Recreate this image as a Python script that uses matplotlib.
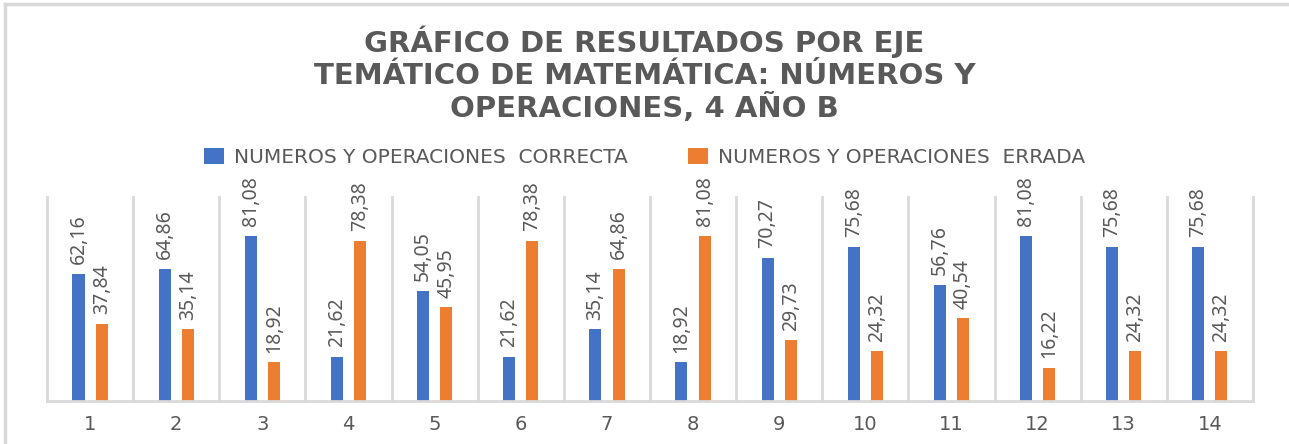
import matplotlib
matplotlib.use("Agg")
import numpy as np
from matplotlib import pyplot as plt
from matplotlib.lines import Line2D

# data
preguntas = [str(i) for i in range(1, 15)]
correcta = [62.16, 64.86, 81.08, 21.62, 54.05, 21.62, 35.14, 18.92, 70.27, 75.68, 56.76, 81.08, 75.68, 75.68]
errada = [37.84, 35.14, 18.92, 78.38, 45.95, 78.38, 64.86, 81.08, 29.73, 24.32, 40.54, 16.22, 24.32, 24.32]
series_names = ["NUMEROS Y OPERACIONES  CORRECTA", "NUMEROS Y OPERACIONES  ERRADA"]

titulo = "GRÁFICO DE RESULTADOS POR EJE\nTEMÁTICO DE MATEMÁTICA: NÚMEROS Y\nOPERACIONES, 4 AÑO B"

BLUE = "#4472C4"
ORANGE = "#ED7D31"
GRAY = "#595959"
GRID = "#d9d9d9"

fig = plt.figure(figsize=(12.89, 4.44), dpi=100)
ax = fig.add_axes([0.0365, 0.0968, 0.9355, 0.4595])

x = np.arange(1, len(preguntas) + 1)
w = 0.14
b1 = ax.bar(x - 0.135, correcta, w, color=BLUE, label=series_names[0])
b2 = ax.bar(x + 0.135, errada, w, color=ORANGE, label=series_names[1])

for bars, vals in [(b1, correcta), (b2, errada)]:
    for rect, v in zip(bars, vals):
        ax.annotate(f"{v:.2f}".replace(".", ","),
                    (rect.get_x() + rect.get_width() / 2, v),
                    xytext=(0, 7), textcoords="offset points",
                    rotation=90, ha="center", va="bottom",
                    fontsize=14, color=GRAY, family="Noto Sans")

# category separators
for sep in np.arange(0.5, len(preguntas) + 1, 1.0):
    ax.plot([sep, sep], [0, 100], color=GRID, lw=2, zorder=0, clip_on=False)

ax.set_xlim(0.5, len(preguntas) + 0.5)
ax.set_ylim(0, 100)
ax.set_yticks([])
ax.set_xticks(x)
ax.set_xticklabels(preguntas, fontsize=14, color=GRAY)
ax.tick_params(axis="x", length=0, pad=10)
for s in ["top", "right", "left"]:
    ax.spines[s].set_visible(False)
ax.spines["bottom"].set_color(GRID)
ax.spines["bottom"].set_linewidth(2)

fig.text(0.5, 0.832, titulo, ha="center", va="center", fontsize=21,
         fontweight="bold", color=GRAY, linespacing=1.15)

leg = fig.legend(loc="center", bbox_to_anchor=(0.5, 0.646), ncol=2, frameon=False,
                 fontsize=14.5, handlelength=1.0, handleheight=0.9,
                 handletextpad=0.5, columnspacing=3.0)
for t in leg.get_texts():
    t.set_color(GRAY)

# light frame at top and left of the screenshot
fig.add_artist(Line2D([0.004, 0.004], [0, 0.99], transform=fig.transFigure, color=GRID, lw=2.5))
fig.add_artist(Line2D([0.004, 1.0], [0.99, 0.99], transform=fig.transFigure, color=GRID, lw=2.5))

fig.savefig("out.png", dpi=100)
